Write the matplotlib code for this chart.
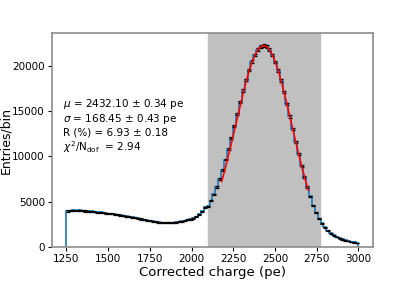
import numpy as np
import matplotlib
matplotlib.use("Agg")
import matplotlib.pyplot as plt

# histograma de carga corregida, 100 bins entre 1250 y 3000 pe
q_min, q_max, n_bins = 1250, 3000, 100
cuentas = [
    4000, 4050, 4080, 4030, 4060, 4040, 4000, 3980, 3960, 3930,
    3880, 3850, 3800, 3760, 3720, 3680, 3640, 3590, 3540, 3490,
    3430, 3370, 3310, 3250, 3190, 3120, 3060, 3000, 2940, 2880,
    2820, 2770, 2730, 2700, 2690, 2700, 2720, 2760, 2810, 2870,
    2940, 3020, 3100, 3200, 3380, 3650, 3980, 4400, 4530, 5130,
    5830, 6630, 7540, 8550, 9660, 10850, 12080, 13370, 14690, 16000,
    17260, 18440, 19520, 20440, 21190, 21750, 22100, 22200, 22090, 21750,
    21180, 20400, 19450, 18340, 17100, 15780, 14410, 13010, 11620, 10270,
    8980, 7765, 6645, 5623, 4600, 3800, 3150, 2650, 2200, 1850,
    1560, 1330, 1150, 1000, 880, 780, 690, 610, 540, 450,
]

# resultado del ajuste gaussiano
mu, mu_err = 2432.10, 0.34
sigma, sigma_err = 168.45, 0.43
amplitud = 22200
res, res_err = 6.93, 0.18
chi2_ndof = 2.94
ajuste_lim = (2180, 2700)

bordes = np.linspace(q_min, q_max, n_bins + 1)
centros = 0.5 * (bordes[:-1] + bordes[1:])
cuentas = np.array(cuentas, dtype=float)
errores = np.sqrt(cuentas)

fig = plt.figure(figsize=(4.15, 2.83), dpi=100)
ax = fig.add_axes([0.125, 0.126, 0.774, 0.756])

ax.axvspan(mu - 2 * sigma, mu + 2 * sigma, color='silver', zorder=0)
ax.stairs(cuentas, bordes, color='#1f77b4', lw=1.2, zorder=2)
ax.errorbar(centros, cuentas, yerr=errores, fmt='none', ecolor='k',
            elinewidth=0.9, capsize=1.2, capthick=0.9, zorder=3)

x_fit = np.linspace(ajuste_lim[0], ajuste_lim[1], 300)
y_fit = amplitud * np.exp(-0.5 * ((x_fit - mu) / sigma) ** 2)
ax.plot(x_fit, y_fit, color='red', lw=1.2, zorder=4)

texto = (rf"$\mu$ = {mu:.2f} ± {mu_err:.2f} pe" "\n"
         rf"$\sigma$ = {sigma:.2f} ± {sigma_err:.2f} pe" "\n"
         rf"R (%) = {res:.2f} ± {res_err:.2f}" "\n"
         rf"$\chi^2$/N$_{{\rm dof}}$  = {chi2_ndof:.2f}")
ax.text(0.035, 0.705, texto, transform=ax.transAxes, fontsize=7.5,
        va='top', ha='left', linespacing=1.15)

ax.set_xlim(1162.5, 3087.5)
ax.set_ylim(0, 23550)
ax.set_xticks(np.arange(1250, 3001, 250))
ax.set_yticks(np.arange(0, 20001, 5000))
ax.tick_params(labelsize=7.5, length=3, pad=2)
ax.set_xlabel('Corrected charge (pe)', fontsize=9.5, labelpad=1)
ax.set_ylabel('Entries/bin', fontsize=9, labelpad=0)
for s in ax.spines.values():
    s.set_color('0.55')
    s.set_linewidth(1.2)

fig.savefig('out.png', dpi=100)
